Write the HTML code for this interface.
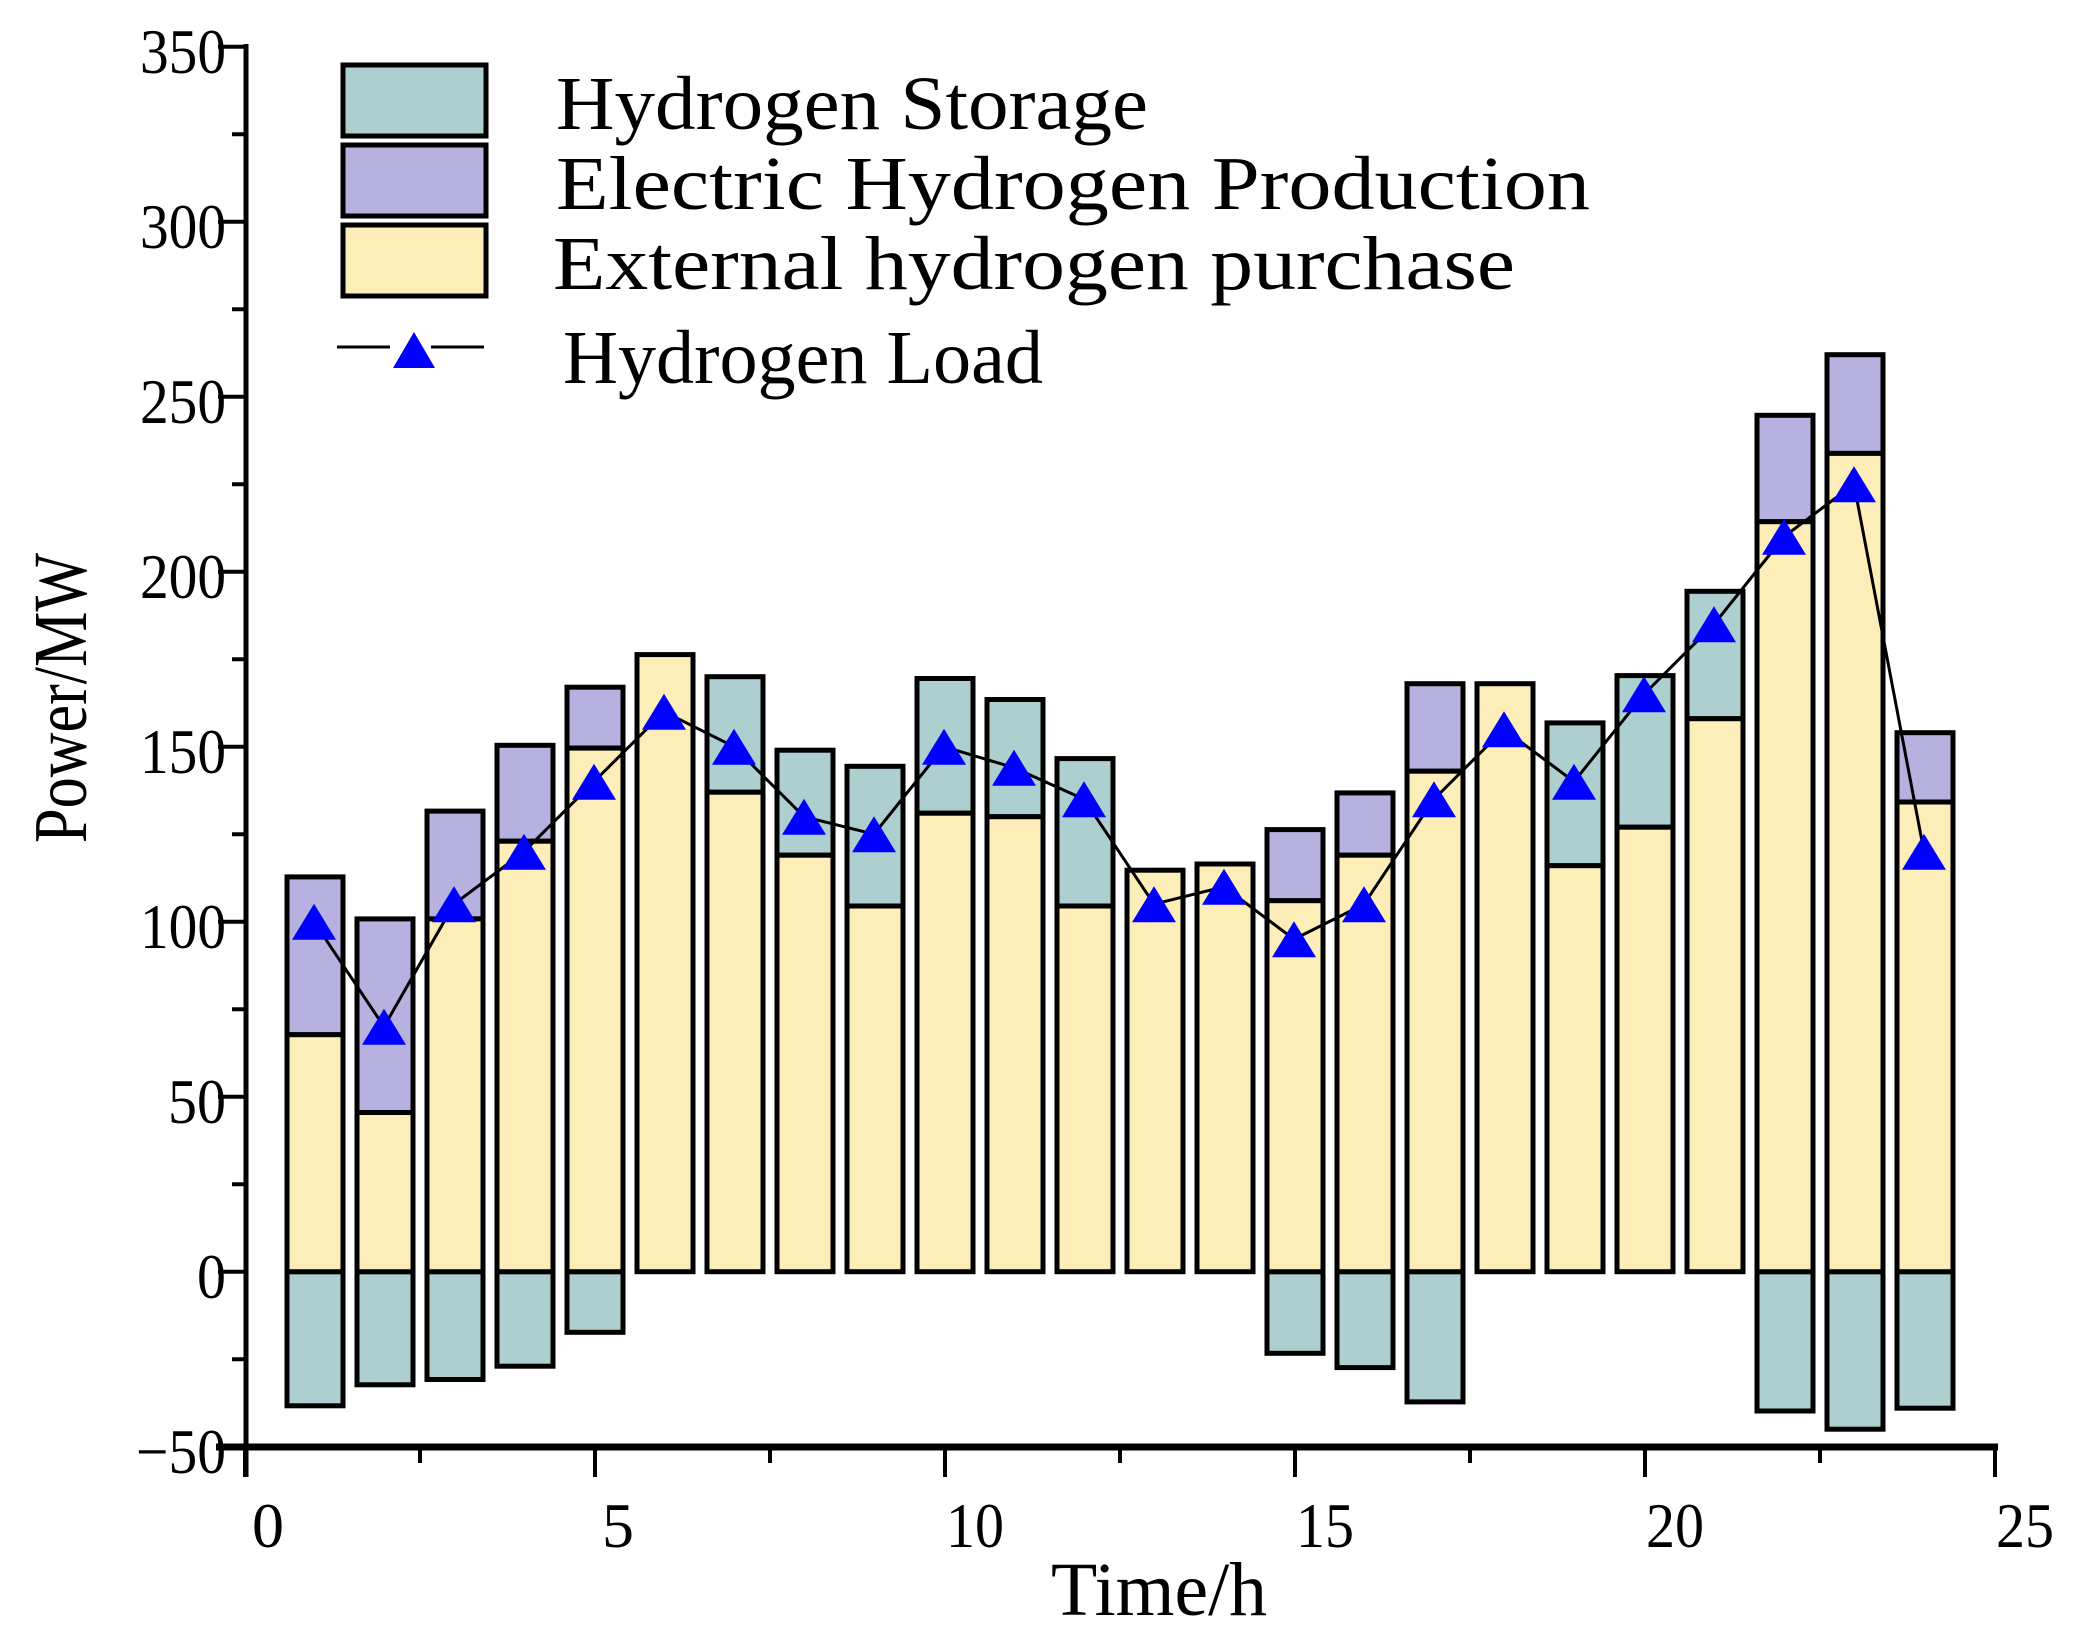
<!DOCTYPE html>
<html><head><meta charset="utf-8"><style>html,body{margin:0;padding:0;background:#fff}svg{display:block}</style></head>
<body>
<svg width="2076" height="1643" viewBox="0 0 2076 1643" xmlns="http://www.w3.org/2000/svg" font-family="'Liberation Serif', serif">
<defs><polygon id="tri" points="0,-18 22,18 -22,18" fill="#0000ff"/></defs>
<g stroke="#000" stroke-width="5">
<!-- negative storage -->
<g fill="#aecfcf">
<rect x="287" y="1271.7" width="56" height="134.1"/>
<rect x="357" y="1271.7" width="56" height="113.1"/>
<rect x="427" y="1271.7" width="56" height="107.8"/>
<rect x="497" y="1271.7" width="56" height="94.5"/>
<rect x="567" y="1271.7" width="56" height="60.6"/>
<rect x="1267" y="1271.7" width="56" height="81.6"/>
<rect x="1337" y="1271.7" width="56" height="95.9"/>
<rect x="1407" y="1271.7" width="56" height="130.2"/>
<rect x="1757" y="1271.7" width="56" height="139.3"/>
<rect x="1827" y="1271.7" width="56" height="157.5"/>
<rect x="1897" y="1271.7" width="56" height="136.5"/>
<!-- positive storage tops -->
<rect x="707" y="676.7" width="56" height="115.5"/>
<rect x="777" y="750.2" width="56" height="105"/>
<rect x="847" y="766.3" width="56" height="139.7"/>
<rect x="917" y="678.5" width="56" height="134.7"/>
<rect x="987" y="699.5" width="56" height="117.2"/>
<rect x="1057" y="758.6" width="56" height="147.4"/>
<rect x="1547" y="722.9" width="56" height="142.8"/>
<rect x="1617" y="675.6" width="56" height="151.6"/>
<rect x="1687" y="591.3" width="56" height="127.4"/>
</g>
<g fill="#b6b1de">
<rect x="287" y="876.9" width="56" height="157.8"/>
<rect x="357" y="918.9" width="56" height="193.6"/>
<rect x="427" y="811.1" width="56" height="107.8"/>
<rect x="497" y="745.3" width="56" height="95.9"/>
<rect x="567" y="687.2" width="56" height="60.9"/>
<rect x="1267" y="829.6" width="56" height="71.1"/>
<rect x="1337" y="792.9" width="56" height="62.3"/>
<rect x="1407" y="683.7" width="56" height="87.5"/>
<rect x="1757" y="415.3" width="56" height="106.4"/>
<rect x="1827" y="354.7" width="56" height="98.7"/>
<rect x="1897" y="732.7" width="56" height="69.3"/>
</g>
<g fill="#fdeeb9">
<rect x="287" y="1034.7" width="56" height="237"/>
<rect x="357" y="1112.5" width="56" height="159.2"/>
<rect x="427" y="918.9" width="56" height="352.8"/>
<rect x="497" y="841.2" width="56" height="430.5"/>
<rect x="567" y="748.1" width="56" height="523.6"/>
<rect x="637" y="654.6" width="56" height="617.1"/>
<rect x="707" y="792.2" width="56" height="479.5"/>
<rect x="777" y="855.2" width="56" height="416.5"/>
<rect x="847" y="906" width="56" height="365.7"/>
<rect x="917" y="813.2" width="56" height="458.5"/>
<rect x="987" y="816.7" width="56" height="455"/>
<rect x="1057" y="906" width="56" height="365.7"/>
<rect x="1127" y="870.2" width="56" height="401.5"/>
<rect x="1197" y="864" width="56" height="407.7"/>
<rect x="1267" y="900.7" width="56" height="371"/>
<rect x="1337" y="855.2" width="56" height="416.5"/>
<rect x="1407" y="771.2" width="56" height="500.5"/>
<rect x="1477" y="683.7" width="56" height="588"/>
<rect x="1547" y="865.7" width="56" height="406"/>
<rect x="1617" y="827.2" width="56" height="444.5"/>
<rect x="1687" y="718.7" width="56" height="553"/>
<rect x="1757" y="521.7" width="56" height="750"/>
<rect x="1827" y="453.4" width="56" height="818.3"/>
<rect x="1897" y="802" width="56" height="469.7"/>
</g>
</g>
<polyline fill="none" stroke="#000" stroke-width="3" points="314,921.7 384,1026.7 454,904.2 524,851.7 594,781.7 664,711.7 734,746.7 804,816.7 874,834.2 944,746.7 1014,767.7 1084,799.2 1154,904.2 1224,886.7 1294,939.2 1364,904.2 1434,799.2 1504,729.2 1574,781.7 1644,694.2 1714,624.2 1784,536.7 1854,484.2 1924,851.7"/>
<use href="#tri" x="314" y="921.7"/><use href="#tri" x="384" y="1026.7"/><use href="#tri" x="454" y="904.2"/><use href="#tri" x="524" y="851.7"/><use href="#tri" x="594" y="781.7"/><use href="#tri" x="664" y="711.7"/><use href="#tri" x="734" y="746.7"/><use href="#tri" x="804" y="816.7"/><use href="#tri" x="874" y="834.2"/><use href="#tri" x="944" y="746.7"/><use href="#tri" x="1014" y="767.7"/><use href="#tri" x="1084" y="799.2"/><use href="#tri" x="1154" y="904.2"/><use href="#tri" x="1224" y="886.7"/><use href="#tri" x="1294" y="939.2"/><use href="#tri" x="1364" y="904.2"/><use href="#tri" x="1434" y="799.2"/><use href="#tri" x="1504" y="729.2"/><use href="#tri" x="1574" y="781.7"/><use href="#tri" x="1644" y="694.2"/><use href="#tri" x="1714" y="624.2"/><use href="#tri" x="1784" y="536.7"/><use href="#tri" x="1854" y="484.2"/><use href="#tri" x="1924" y="851.7"/>
<!-- axes -->
<line x1="246" y1="44" x2="246" y2="1477" stroke="#000" stroke-width="5"/>
<line x1="216" y1="1447" x2="1998" y2="1447" stroke="#000" stroke-width="7"/>
<path stroke="#000" stroke-width="4" fill="none" d="M218,1446.7H246M218,1271.7H246M218,1096.7H246M218,921.7H246M218,746.7H246M218,571.7H246M218,396.7H246M218,221.7H246M218,46.7H246M232,1359.2H246M232,1184.2H246M232,1009.2H246M232,834.2H246M232,659.2H246M232,484.2H246M232,309.2H246M232,134.2H246M245,1447V1477M595,1447V1477M945,1447V1477M1295,1447V1477M1645,1447V1477M1995,1447V1477M420,1447V1463M770,1447V1463M1120,1447V1463M1470,1447V1463M1820,1447V1463"/>
<g font-size="64" text-anchor="end">
<text x="226" y="73" textLength="86" lengthAdjust="spacingAndGlyphs">350</text>
<text x="226" y="248" textLength="86" lengthAdjust="spacingAndGlyphs">300</text>
<text x="226" y="423" textLength="86" lengthAdjust="spacingAndGlyphs">250</text>
<text x="226" y="598" textLength="86" lengthAdjust="spacingAndGlyphs">200</text>
<text x="226" y="773" textLength="86" lengthAdjust="spacingAndGlyphs">150</text>
<text x="226" y="948" textLength="86" lengthAdjust="spacingAndGlyphs">100</text>
<text x="226" y="1123" textLength="58" lengthAdjust="spacingAndGlyphs">50</text>
<text x="226" y="1298" textLength="29" lengthAdjust="spacingAndGlyphs">0</text>
<text x="226" y="1473" textLength="90" lengthAdjust="spacingAndGlyphs">−50</text>
</g>
<g font-size="64" text-anchor="middle">
<text x="268" y="1547">0</text>
<text x="618" y="1547">5</text>
<text x="975" y="1547" textLength="58" lengthAdjust="spacingAndGlyphs">10</text>
<text x="1325" y="1547" textLength="58" lengthAdjust="spacingAndGlyphs">15</text>
<text x="1675" y="1547" textLength="58" lengthAdjust="spacingAndGlyphs">20</text>
<text x="2025" y="1547" textLength="58" lengthAdjust="spacingAndGlyphs">25</text>
</g>
<text x="1051" y="1615" font-size="76" textLength="216" lengthAdjust="spacingAndGlyphs">Time/h</text>
<text transform="translate(86,843) rotate(-90)" font-size="76" textLength="290" lengthAdjust="spacingAndGlyphs">Power/MW</text>
<!-- legend -->
<rect x="343" y="65" width="143" height="71" fill="#aecfcf" stroke="#000" stroke-width="5"/>
<rect x="343" y="145" width="143" height="71" fill="#b6b1de" stroke="#000" stroke-width="5"/>
<rect x="343" y="225" width="143" height="71" fill="#fdeeb9" stroke="#000" stroke-width="5"/>
<line x1="337" y1="347" x2="390" y2="347" stroke="#000" stroke-width="3"/>
<line x1="431" y1="347" x2="484" y2="347" stroke="#000" stroke-width="3"/>
<polygon points="414,332 435,368 393,368" fill="#0000ff"/>
<g font-size="76">
<text x="556" y="129" textLength="592" lengthAdjust="spacingAndGlyphs">Hydrogen Storage</text>
<text x="556" y="209" textLength="1034" lengthAdjust="spacingAndGlyphs">Electric Hydrogen Production</text>
<text x="553" y="289" textLength="962" lengthAdjust="spacingAndGlyphs">External hydrogen purchase</text>
<text x="563" y="383" textLength="480" lengthAdjust="spacingAndGlyphs">Hydrogen Load</text>
</g>
</svg>
</body></html>
